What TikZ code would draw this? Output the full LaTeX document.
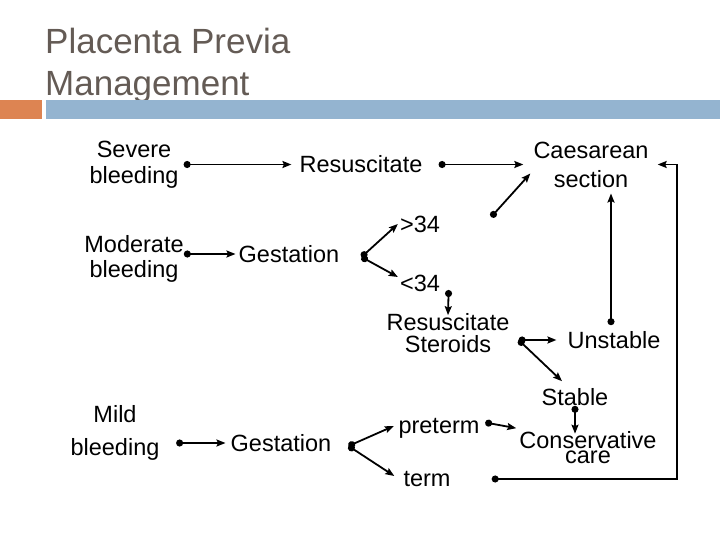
\documentclass[tikz,border=0pt]{standalone}
\usepackage{fontspec}
\setmainfont{Liberation Sans}
\usetikzlibrary{arrows.meta,positioning,calc}
\definecolor{TitleGrey}{RGB}{100,91,85}
\definecolor{BarOrange}{RGB}{221,132,82}
\definecolor{BarBlue}{RGB}{148,180,208}

\begin{document}
\begin{tikzpicture}[x=1pt,y=-1pt,
    lbl/.style={inner sep=0pt,align=center,font=\fontsize{23.5}{#1}\selectfont},
    lbl/.default=27,
    link/.style={line width=1.8pt,
      {Circle[length=7pt]}-{Stealth[length=9pt,width=7pt,inset=1.5pt]}}]
  \useasboundingbox (0,0) rectangle (720,540);

  % title and bars
  \node[anchor=north west,inner sep=0pt,align=left,text=TitleGrey,
    font=\fontsize{35}{42}\selectfont] (title) at (45,28)
    {Placenta Previa\\Management};
  \fill[BarOrange] (0,100) rectangle (42,119);
  \fill[BarBlue] (46,100) rectangle (720,119);

  % labels
  \node[lbl=26] (sev) at (134,164.5) {Severe\\bleeding};
  \node[lbl] (resA) at (361,164.5) {Resuscitate};
  \node[lbl=29] (cs) at (591,164.5) {Caesarean\\section};
  \node[lbl=25] (mod) at (134,259) {Moderate\\bleeding};
  \node[lbl] (gesA) at (289,254) {Gestation};
  \node[lbl] (gt) at (420,224) {>34};
  \node[lbl] (lt) at (420,283) {<34};
  \node[lbl=22] (rs) at (448,333) {Resuscitate\\Steroids};
  \node[lbl] (uns) at (614,340) {Unstable};
  \node[lbl] (stb) at (575,397) {Stable};
  \node[lbl=15] (cc) at (588,448) {Conservative\\care};
  \node[lbl=33] (mild) at (115,433) {Mild\\bleeding};
  \node[lbl] (gesB) at (281,443) {Gestation};
  \node[lbl] (pre) at (439,428) {preterm};
  \node[lbl] (term) at (427,479) {term};

  % branch points
  \coordinate (gtout) at ([shift={(51pt,7pt)}]gt.east);
  \coordinate (forkA) at ([shift={(22pt,-3pt)}]gesA.east);
  \coordinate (rsout) at ([shift={(9pt,-7pt)}]rs.east);
  \coordinate (forkB) at ([shift={(17pt,-3pt)}]gesB.east);
  \coordinate (termout) at ([xshift=41pt]term.east);

  \draw[link] ([xshift=5pt]sev.east) -- ([xshift=-8pt]resA.west);
  \draw[link] ([xshift=16pt]resA.east) -- ([xshift=-10pt]cs.west);
  \draw[link] (gtout) -- ([shift={(-3pt,14pt)}]cs.south west);
  \draw[link] ([yshift=5pt]mod.east) -- ([xshift=-3pt]gesA.west);
  \draw[link] (forkA) -- ([xshift=-2pt]gt.west);
  \draw[link] (forkA) -- ([shift={(-2pt,6pt)}]lt.west);
  \draw[link] ([shift={(8.5pt,-7pt)}]lt.east) -- ([yshift=-2pt]rs.north);
  \draw[link] (rsout) -- ([xshift=-11pt]uns.west);
  \draw[link] (rsout) -- ([shift={(-13pt,7pt)}]stb.north);
  \draw[link] ([shift={(-3pt,6pt)}]uns.north) -- ([shift={(-3pt,-6pt)}]uns.north |- cs.south);
  \draw[link] (stb.south) -- ([yshift=-2pt]stb.south |- cc.north);
  \draw[link] ([shift={(5.5pt,5.5pt)}]pre.east) -- ([shift={(-3pt,3.5pt)}]cc.north west);
  \draw[link] ([shift={(16.5pt,-10pt)}]mild.east) -- ([xshift=-5pt]gesB.west);
  \draw[link] (forkB) -- ([shift={(-4.5pt,2pt)}]pre.west);
  \draw[link] (forkB) -- ([shift={(-9pt,3pt)}]term.west);
  \draw[link] (termout) -| ([xshift=28pt]cs.east) -- ([xshift=9pt]cs.east);
\end{tikzpicture}
\end{document}
